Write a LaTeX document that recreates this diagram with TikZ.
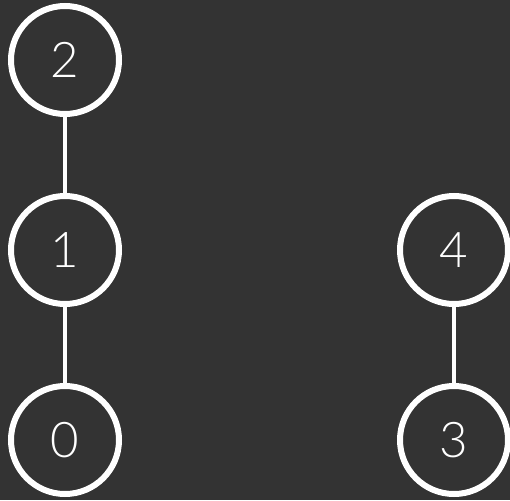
\documentclass[tikz,border=0pt]{standalone}
\usepackage{fontspec}
\setmainfont{Lato Light}
\usepackage{tikz}
\usetikzlibrary{arrows}
\definecolor{bg}{HTML}{333333}

\begin{document}
\begin{tikzpicture}[x=.02cm,y=-.02cm]
						\fill[bg] (0,0) rectangle (510,500);
						\useasboundingbox (0,0) rectangle (510,500);
						\tikzstyle{every node}=[circle, draw=white, line width=6*.02cm, minimum size=108*.02cm, inner sep=0pt, text=white, font=\fontsize{28}{30}\selectfont]
						\draw (65,60) node (n2) {2};
						\draw (65,250) node (n1) {1};
						\draw (65,440) node (n0) {0};
						\draw (454,250) node (n4) {4};
						\draw (454,440) node (n3) {3};
						\draw[white, line width=4*.02cm] (n2) -- (n1) -- (n0);
						\draw[white, line width=4*.02cm] (n4) -- (n3);
					\end{tikzpicture}
\end{document}
